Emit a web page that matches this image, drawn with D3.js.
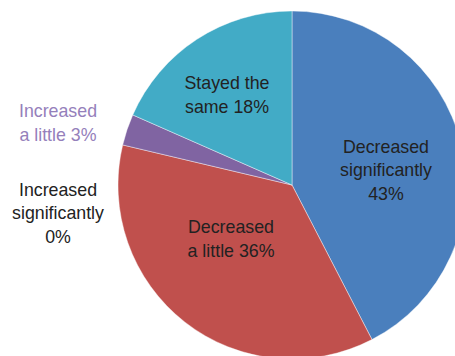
<!DOCTYPE html>
<html>
<head>
<meta charset="utf-8">
<script src="https://cdn.jsdelivr.net/npm/d3@7"></script>
<style>
  body { margin: 0; background: #fff; }
  svg { display: block; }
  text { font-family: "Liberation Sans", Arial, sans-serif; font-size: 17.8px; }
</style>
</head>
<body>
<script>
let w = 455;
let h = 356;

// slices, clockwise from 12 o'clock
let categories = ["Decreased significantly", "Decreased a little", "Increased significantly", "Increased a little", "Stayed the same"];
let values = [42.4, 36.3, 0, 2.9, 18.4];
let labels = [
    ["Decreased", "significantly", "43%"],
    ["Decreased", "a little 36%"],
    ["Increased", "significantly", "0%"],
    ["Increased", "a little 3%"],
    ["Stayed the", "same 18%"]
];
let colors = ["#4a7fbd", "#c0504d", "#8064a2", "#8064a2", "#42abc6"];
let labelColors = ["#222", "#222", "#222", "#9580bb", "#222"];
// label block centres (pixels)
let labelPos = [[386, 170], [231, 239], [58, 213], [58, 123], [227, 95]];

let cx = 292, cy = 185, r = 174;
let lineH = 23.5;

let svg = d3.select("body")
    .append("svg")
    .attr("width", w)
    .attr("height", h);

let pie = d3.pie().sort(null).value(function(d) { return d; });
let arc = d3.arc().innerRadius(0).outerRadius(r);

let g = svg.append("g").attr("transform", "translate(" + cx + "," + cy + ")");

g.selectAll("path")
    .data(pie(values))
    .enter()
    .append("path")
    .attr("d", arc)
    .attr("fill", function(d, i) { return colors[i]; })
    .attr("stroke", "#fff")
    .attr("stroke-width", 0.6)
    .attr("stroke-opacity", function(d) { return d.value > 0 ? 0.7 : 0; });

let lab = svg.selectAll("g.lab")
    .data(labels)
    .enter()
    .append("g")
    .attr("class", "lab")
    .attr("transform", function(d, i) { return "translate(" + labelPos[i][0] + "," + labelPos[i][1] + ")"; });

lab.each(function(lines, i) {
    let n = lines.length;
    d3.select(this).selectAll("text")
        .data(lines)
        .enter()
        .append("text")
        .attr("text-anchor", "middle")
        .attr("dominant-baseline", "central")
        .attr("y", function(d, j) { return (j - (n - 1) / 2) * lineH; })
        .attr("fill", labelColors[i])
        .text(function(d) { return d; });
});
</script>
</body>
</html>
